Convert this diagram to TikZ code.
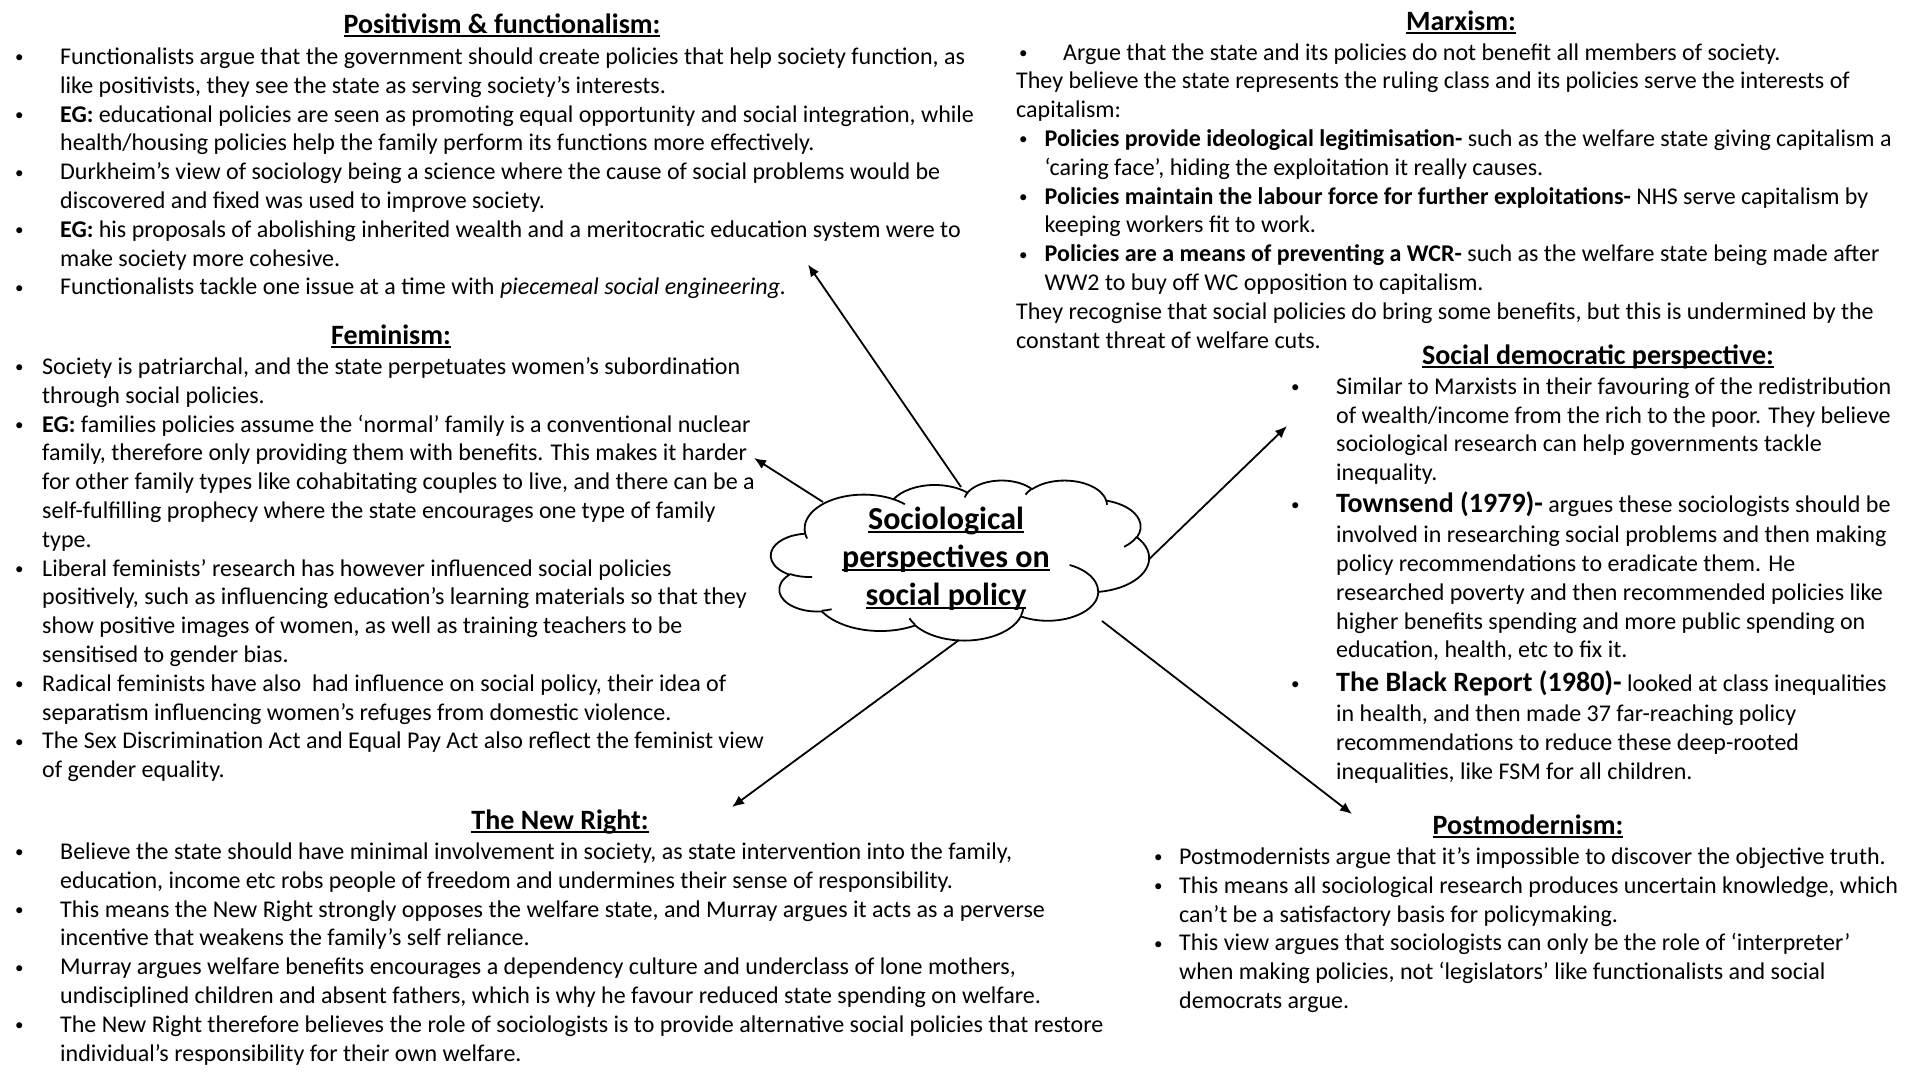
\documentclass[tikz,border=0pt]{standalone}
\usepackage{fontspec}
\setmainfont{Carlito}
\usetikzlibrary{arrows.meta}
\newcommand{\mybul}[1]{\makebox[#1][l]{\hspace*{3pt}\raisebox{1.6pt}{\fontsize{17}{17}\selectfont •}}}
\newcommand{\myind}[1]{\hspace*{#1}}
\newcommand{\myunder}[1]{\begingroup\setbox0\hbox{#1}\rlap{\rule[-3.5pt]{\wd0}{1.8pt}}\box0\endgroup}
\newcommand{\bodyfont}{\fontsize{24}{28.8}\selectfont}
\newcommand{\titlefont}{\fontsize{28}{32}\selectfont\bfseries}
\newcommand{\bigbold}{\fontsize{28}{28.8}\selectfont\bfseries}
\newcommand{\cloudfont}{\fontsize{32}{38}\selectfont\bfseries}
\tikzset{ooarc/.style n args={4}{insert path={arc[x radius=#1, y radius=#2,
   start angle={atan2(#1*sin(#3),#2*cos(#3))},
   delta angle={mod(atan2(#1*sin(#3+#4),#2*cos(#3+#4))-atan2(#1*sin(#3),#2*cos(#3))+720,360)}]}}}
\begin{document}
\begin{tikzpicture}[x=1pt,y=-1pt,
  body/.style={anchor=base west, inner sep=0pt, font=\bodyfont},
  ttl/.style={anchor=base, inner sep=0pt, font=\titlefont},
  cloudline/.style={line width=1.8pt, line join=round},
  arr/.style={-{Latex[length=12pt,width=10pt]}, line width=1.8pt}]
\useasboundingbox[fill=white] (0,0) rectangle (1920,1080);

% ---------- Positivism & functionalism ----------
\node[ttl] (tpos) at (502,33.5) {\myunder{Positivism \& functionalism:}};
\node[body] (bpos) at (12,64.5) {\parbox[t]{1300pt}{\raggedright
\mybul{48pt}Functionalists argue that the government should create policies that help society function, as\\
\myind{48pt}like positivists, they see the state as serving society’s interests.\\
\mybul{48pt}\textbf{EG:} educational policies are seen as promoting equal opportunity and social integration, while\\
\myind{48pt}health/housing policies help the family perform its functions more effectively.\\
\mybul{48pt}Durkheim’s view of sociology being a science where the cause of social problems would be\\
\myind{48pt}discovered and fixed was used to improve society.\\
\mybul{48pt}\textbf{EG:} his proposals of abolishing inherited wealth and a meritocratic education system were to\\
\myind{48pt}make society more cohesive.\\
\mybul{48pt}Functionalists tackle one issue at a time with \textit{piecemeal social engineering.}}};

% ---------- Feminism ----------
\node[ttl] (tfem) at (391,344.5) {\myunder{Feminism:}};
\node[body] (bfem) at (12,374.5) {\parbox[t]{1300pt}{\raggedright
\mybul{30pt}Society is patriarchal, and the state perpetuates women’s subordination\\
\myind{30pt}through social policies.\\
\mybul{30pt}\textbf{EG:} families policies assume the ‘normal’ family is a conventional nuclear\\
\myind{30pt}family, therefore only providing them with benefits. This makes it harder\\
\myind{30pt}for other family types like cohabitating couples to live, and there can be a\\
\myind{30pt}self-fulfilling prophecy where the state encourages one type of family\\
\myind{30pt}type.\\
\mybul{30pt}Liberal feminists’ research has however influenced social policies\\
\myind{30pt}positively, such as influencing education’s learning materials so that they\\
\myind{30pt}show positive images of women, as well as training teachers to be\\
\myind{30pt}sensitised to gender bias.\\
\mybul{30pt}Radical feminists have also\ \ had influence on social policy, their idea of\\
\myind{30pt}separatism influencing women’s refuges from domestic violence.\\
\mybul{30pt}The Sex Discrimination Act and Equal Pay Act also reflect the feminist view\\
\myind{30pt}of gender equality.}};

% ---------- Marxism ----------
\node[ttl] (tmarx) at (1461,30) {\myunder{Marxism:}};
\node[body] (bmarx) at (1016,60) {\parbox[t]{1300pt}{\raggedright
\mybul{47pt}Argue that the state and its policies do not benefit all members of society.\\
They believe the state represents the ruling class and its policies serve the interests of\\
capitalism:\\
\mybul{28.5pt}\textbf{Policies provide ideological legitimisation-} such as the welfare state giving capitalism a\\
\myind{28.5pt}‘caring face’, hiding the exploitation it really causes.\\
\mybul{28.5pt}\textbf{Policies maintain the labour force for further exploitations-} NHS serve capitalism by\\
\myind{28.5pt}keeping workers fit to work.\\
\mybul{28.5pt}\textbf{Policies are a means of preventing a WCR-} such as the welfare state being made after\\
\myind{28.5pt}WW2 to buy off WC opposition to capitalism.\\
They recognise that social policies do bring some benefits, but this is undermined by the\\
constant threat of welfare cuts.}};

% ---------- Social democratic perspective ----------
\node[ttl] (tsoc) at (1598,364.5) {\myunder{Social democratic perspective:}};
\node[body] (bsoc) at (1288,394.2) {\parbox[t]{800pt}{\raggedright
\mybul{48pt}Similar to Marxists in their favouring of the redistribution\\
\myind{48pt}of wealth/income from the rich to the poor. They believe\\
\myind{48pt}sociological research can help governments tackle\\
\myind{48pt}inequality.\\[3pt]
\mybul{48pt}{\bigbold Townsend (1979)-} argues these sociologists should be\\[1.5pt]
\myind{48pt}involved in researching social problems and then making\\
\myind{48pt}policy recommendations to eradicate them. He\\
\myind{48pt}researched poverty and then recommended policies like\\
\myind{48pt}higher benefits spending and more public spending on\\
\myind{48pt}education, health, etc to fix it.\\[4.5pt]
\mybul{48pt}{\bigbold The Black Report (1980)-} looked at class inequalities\\[1.5pt]
\myind{48pt}in health, and then made 37 far-reaching policy\\
\myind{48pt}recommendations to reduce these deep-rooted\\
\myind{48pt}inequalities, like FSM for all children.}};

% ---------- Postmodernism ----------
\node[ttl] (tpost) at (1528,834.5) {\myunder{Postmodernism:}};
\node[body] (bpost) at (1151,864.5) {\parbox[t]{800pt}{\raggedright
\mybul{28pt}Postmodernists argue that it’s impossible to discover the objective truth.\\
\mybul{28pt}This means all sociological research produces uncertain knowledge, which\\
\myind{28pt}can’t be a satisfactory basis for policymaking.\\
\mybul{28pt}This view argues that sociologists can only be the role of ‘interpreter’\\
\myind{28pt}when making policies, not ‘legislators’ like functionalists and social\\
\myind{28pt}democrats argue.}};

% ---------- The New Right ----------
\node[ttl] (tnr) at (560,829.5) {\myunder{The New Right:}};
\node[body] (bnr) at (12,859.5) {\parbox[t]{1300pt}{\raggedright
\mybul{48pt}Believe the state should have minimal involvement in society, as state intervention into the family,\\
\myind{48pt}education, income etc robs people of freedom and undermines their sense of responsibility.\\
\mybul{48pt}This means the New Right strongly opposes the welfare state, and Murray argues it acts as a perverse\\
\myind{48pt}incentive that weakens the family’s self reliance.\\
\mybul{48pt}Murray argues welfare benefits encourages a dependency culture and underclass of lone mothers,\\
\myind{48pt}undisciplined children and absent fathers, which is why he favour reduced state spending on welfare.\\
\mybul{48pt}The New Right therefore believes the role of sociologists is to provide alternative social policies that restore\\
\myind{48pt}individual’s responsibility for their own welfare.}};

% ---------- Central cloud (drawn shape) ----------
\begin{scope}[shift={(771,480)}, xscale=0.875, yscale=0.3704]
\draw[cloudline, fill=white] (39.00,143.70)
  [ooarc={67.53}{91.90}{-190.4875}{123.7805}]
  [ooarc={53.33}{72.67}{-144.1024}{89.9452}]
  [ooarc={43.65}{59.45}{-145.8079}{99.7230}]
  [ooarc={48.57}{65.95}{-130.9861}{117.2417}]
  [ooarc={53.33}{72.73}{-78.7089}{109.0269}]
  [ooarc={67.75}{92.20}{-46.2673}{130.2690}]
  [ooarc={57.85}{78.67}{0.6250}{114.0333}]
  [ooarc={67.52}{92.15}{22.4516}{115.1726}]
  [ooarc={77.20}{105.43}{66.2426}{75.7110}]
  [ooarc={43.60}{59.18}{-274.9421}{146.7356}]
  [ooarc={43.45}{59.45}{-246.8285}{152.5189}] -- cycle;
\draw[cloudline]
  (46.93,261.77) [ooarc={43.45}{59.45}{86.7420}{26.4295}]
  (69.28,348.99) [ooarc={43.60}{59.18}{73.6105}{11.4475}]
  (164.78,390.90) [ooarc={67.52}{92.15}{137.6242}{14.0811}]
  (288.27,347.51) [ooarc={67.52}{92.15}{6.4533}{15.9984}]
  (341.29,229.54) [ooarc={57.85}{78.67}{-70.2924}{70.9174}]
  (417.98,153.54) [ooarc={53.33}{72.73}{30.3180}{27.7515}]
  (383.24,54.26) [ooarc={48.57}{65.95}{-13.7443}{14.8540}]
  (290.78,39.52) [ooarc={48.57}{65.95}{-149.1815}{18.1954}]
  (221.41,47.20) [ooarc={43.65}{59.45}{-163.4943}{17.6864}]
  (140.00,51.92) [ooarc={67.53}{91.90}{-66.7070}{12.3194}]
  (41.27,157.89) [ooarc={67.53}{91.90}{157.6544}{11.8582}];
\end{scope}
\node[font=\cloudfont, align=center, inner sep=0pt] (ctext) at (946,559)
  {\myunder{Sociological}\\ \myunder{perspectives on}\\ \myunder{social policy}};

% ---------- Arrows ----------
\coordinate (s1) at (961,487);
\coordinate (s2) at (823,502);
\coordinate (s3) at (1148.6,559.6);
\coordinate (s4) at (959,640);
\coordinate (s5) at (1102,621);
\coordinate (e1) at (808,264.5);
\coordinate (e2) at (754,458);
\coordinate (e3) at (1287,426);
\coordinate (e4) at (732,807);
\coordinate (e5) at (1352,814);
\draw[arr] (s1) -- (e1);
\draw[arr] (s2) -- (e2);
\draw[arr] (s3) -- (e3);
\draw[arr] (s4) -- (e4);
\draw[arr] (s5) -- (e5);
\end{tikzpicture}
\end{document}
